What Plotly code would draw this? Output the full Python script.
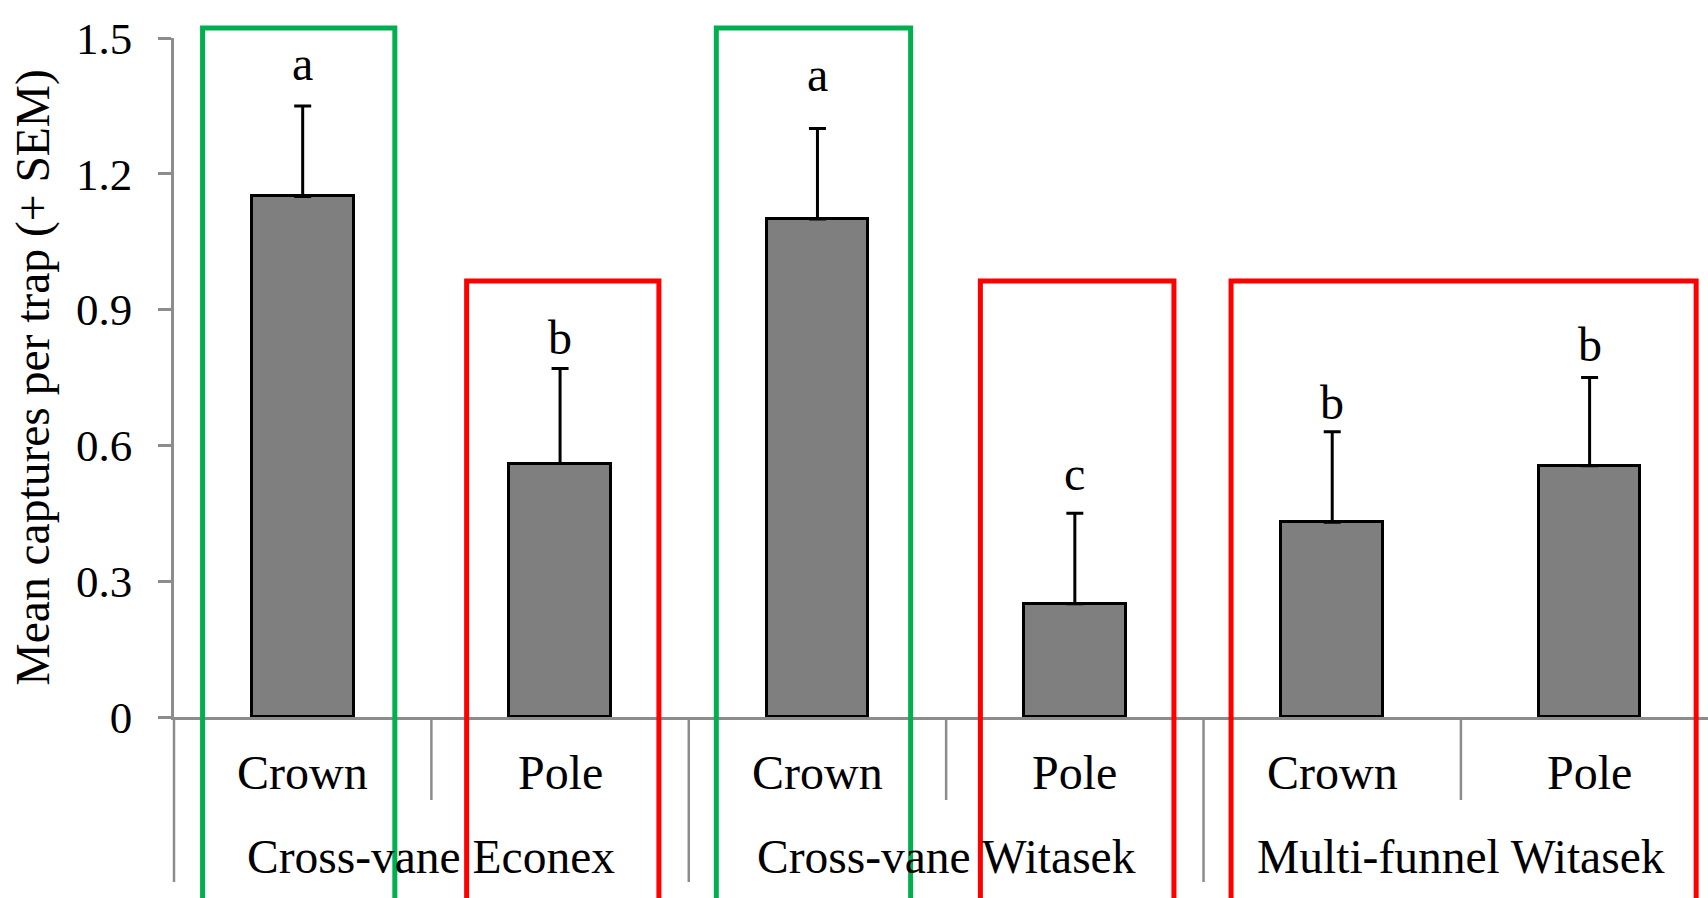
import plotly.graph_objects as go

# ---- data -------------------------------------------------------------
groups = ["Cross-vane Econex", "Cross-vane Witasek", "Multi-funnel Witasek"]
positions = ["Crown", "Pole", "Crown", "Pole", "Crown", "Pole"]
mean_captures = [1.15, 0.56, 1.10, 0.25, 0.43, 0.555]
sem = [0.20, 0.21, 0.20, 0.20, 0.20, 0.195]
letters = ["a", "b", "a", "c", "b", "b"]
y_ticks = [0, 0.3, 0.6, 0.9, 1.2, 1.5]
y_tick_labels = ["0", "0.3", "0.6", "0.9", "1.2", "1.5"]

# ---- page geometry ----------------------------------------------------
W, H = 1708, 898
M_L, M_R, M_T, M_B = 174, 0, 38, 181
PLOT_H = H - M_T - M_B
X_RANGE = [-0.5, 5.46]
Y_RANGE = [0, 1.5]

FONT = "Liberation Serif, Times New Roman, serif"
AXIS_GREY = "#8c8c8c"
GREEN = "#00b050"
RED = "#ff0000"


def paper_y(px):
    """Convert a pixel row on the page into a paper y coordinate."""
    return (H - M_B - px) / PLOT_H


x_idx = list(range(len(positions)))

fig = go.Figure()
fig.add_trace(go.Bar(
    x=x_idx,
    y=mean_captures,
    width=0.395,
    marker=dict(color="#7f7f7f", line=dict(color="black", width=3)),
    error_y=dict(type="data", symmetric=False, array=sem,
                 arrayminus=[0] * len(sem), color="black",
                 thickness=3, width=8.5),
    showlegend=False,
    hoverinfo="skip",
))

shapes = []
# axis continues below the baseline, plus group dividers
shapes.append(dict(type="line", xref="paper", yref="paper", x0=0, x1=0,
                   y0=0, y1=paper_y(882),
                   line=dict(color=AXIS_GREY, width=2.5)))
for gx in [1.5, 3.5]:
    shapes.append(dict(type="line", xref="x", yref="paper", x0=gx, x1=gx,
                       y0=0, y1=paper_y(882),
                       line=dict(color=AXIS_GREY, width=2.5)))
# short dividers between Crown and Pole
for sx in [0.5, 2.5, 4.5]:
    shapes.append(dict(type="line", xref="x", yref="paper", x0=sx, x1=sx,
                       y0=0, y1=paper_y(800),
                       line=dict(color=AXIS_GREY, width=2.5)))

# highlight frames around trap types
frames = [
    (-0.389, 0.358, GREEN, 28),
    (0.637, 1.384, RED, 281),
    (1.607, 2.362, GREEN, 28),
    (2.633, 3.385, RED, 281),
    (3.607, 5.414, RED, 281),
]
for x0, x1, col, top in frames:
    shapes.append(dict(type="rect", xref="x", yref="paper", x0=x0, x1=x1,
                       y0=paper_y(960), y1=paper_y(top),
                       line=dict(color=col, width=5),
                       fillcolor="rgba(0,0,0,0)", layer="above"))

annotations = []
for i, lab in enumerate(positions):
    annotations.append(dict(x=i, y=paper_y(772), xref="x", yref="paper",
                            text=lab, showarrow=False, yanchor="middle",
                            font=dict(family=FONT, size=48, color="black")))
for gi, g in enumerate(groups):
    annotations.append(dict(x=2 * gi + 0.5, y=paper_y(857), xref="x",
                            yref="paper", text=g, showarrow=False,
                            yanchor="middle",
                            font=dict(family=FONT, size=47.5, color="black")))

letter_shift = [42, 31, 54, 40, 29, 33]
for i, (m, s, let) in enumerate(zip(mean_captures, sem, letters)):
    annotations.append(dict(x=i, y=m + s, xref="x", yref="y", text=let,
                            showarrow=False, yanchor="middle",
                            yshift=letter_shift[i],
                            font=dict(family=FONT, size=48, color="black")))

annotations.append(dict(x=(33 - M_L) / (W - M_L - M_R), y=0.5,
                        xref="paper", yref="paper",
                        text="Mean captures per trap (+ SEM)",
                        textangle=-90, showarrow=False,
                        xanchor="center", yanchor="middle",
                        font=dict(family=FONT, size=47.5, color="black")))

fig.update_layout(
    width=W, height=H,
    margin=dict(l=M_L, r=M_R, t=M_T, b=M_B, pad=0),
    paper_bgcolor="white", plot_bgcolor="white",
    shapes=shapes, annotations=annotations,
    xaxis=dict(range=X_RANGE, showticklabels=False, ticks="",
               showgrid=False, zeroline=False, showline=True,
               linecolor=AXIS_GREY, linewidth=3, fixedrange=True),
    yaxis=dict(range=Y_RANGE, tickvals=y_ticks, ticktext=y_tick_labels,
               ticks="outside", ticklen=13, tickwidth=2.5,
               tickcolor=AXIS_GREY, showline=True, linecolor=AXIS_GREY,
               linewidth=2.5, showgrid=False, zeroline=False,
               ticklabelstandoff=17,
               tickfont=dict(family=FONT, size=45, color="black"),
               fixedrange=True),
    bargap=0,
)

fig.write_html("out.html")
